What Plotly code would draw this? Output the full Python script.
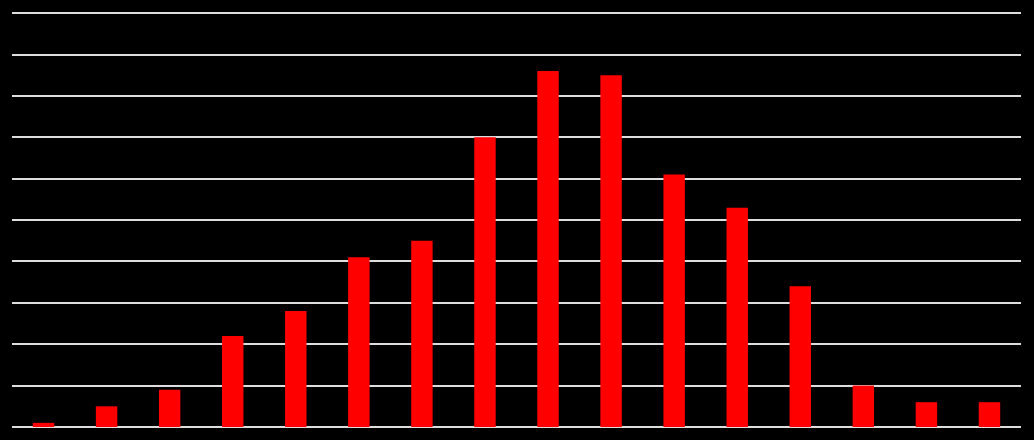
import plotly.graph_objects as go

categories = [f"C{i}" for i in range(1, 17)]
values = [1, 5, 9, 22, 28, 41, 45, 70, 86, 85, 61, 53, 34, 10, 6, 6]

fig = go.Figure(go.Bar(x=categories, y=values, marker_color="#ff0000", marker_line_width=0))
fig.update_layout(
    width=1034,
    height=440,
    paper_bgcolor="#000000",
    plot_bgcolor="#000000",
    margin=dict(l=12, r=13, t=9, b=13),
    bargap=0.66,
    showlegend=False,
    font=dict(color="#000000", size=10),
)
fig.update_xaxes(showticklabels=False, showgrid=False, zeroline=False, showline=False)
fig.update_yaxes(
    range=[0, 101],
    dtick=10,
    showticklabels=False,
    gridcolor="#dddddd",
    gridwidth=2,
    zeroline=True,
    zerolinecolor="#dddddd",
    zerolinewidth=2,
)
fig.write_html(
    "out.html",
    config={"displayModeBar": False},
    post_script="document.body.style.margin='0';document.body.style.background='#000';",
)
